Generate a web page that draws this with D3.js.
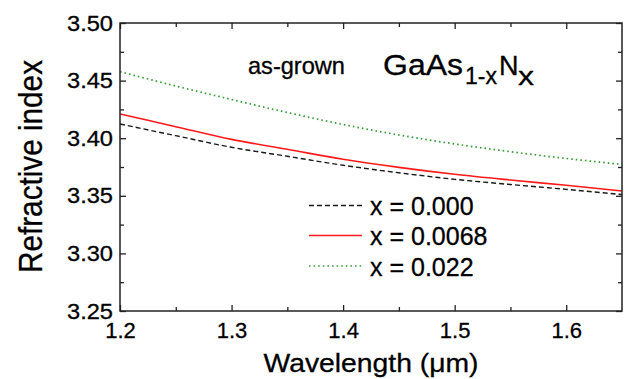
<!DOCTYPE html>
<html>
<head>
<meta charset="utf-8">
<script src="https://cdn.jsdelivr.net/npm/d3@7"></script>
<style>
  body { margin: 0; background: #fff; }
  text { font-family: "Liberation Sans", Arial, sans-serif; fill: #000; stroke: #000; stroke-width: 0.3px; }
  .tick text { font-size: 22px; }
</style>
</head>
<body>
<svg id="chart" width="624" height="379"></svg>
<script>
// wavelength in micrometres
var wavelengths = [1.20, 1.25, 1.30, 1.35, 1.40, 1.45, 1.50, 1.55, 1.60, 1.65];
// refractive index for each nitrogen content
var nX000  = [3.4123, 3.4022, 3.3921, 3.3843, 3.3765, 3.3700, 3.3643, 3.3598, 3.3556, 3.3511];
var nX0068 = [3.4210, 3.4100, 3.3990, 3.3904, 3.3817, 3.3747, 3.3687, 3.3637, 3.3591, 3.3542];
var nX022  = [3.4577, 3.4453, 3.4336, 3.4223, 3.4119, 3.4028, 3.3950, 3.3883, 3.3824, 3.3773];
var seriesNames = ["x = 0.000", "x = 0.0068", "x = 0.022"];

var xTicks = [1.2, 1.3, 1.4, 1.5, 1.6];
var xMinor = [1.25, 1.35, 1.45, 1.55];
var yTicks = [3.25, 3.30, 3.35, 3.40, 3.45, 3.50];
var yMinor = [3.275, 3.325, 3.375, 3.425, 3.475];

var svg = d3.select("#chart");

var plotLeft = 120, plotRight = 622, plotTop = 23, plotBottom = 311;

var x = d3.scaleLinear().domain([1.2, 1.65]).range([plotLeft, plotRight]);
var y = d3.scaleLinear().domain([3.25, 3.50]).range([plotBottom, plotTop]);

var styles = [
    { color: "#1a1a1a", width: 1.4, dash: "5,3" },
    { color: "#ff1a1a", width: 1.6, dash: null },
    { color: "#3a9c3a", width: 1.7, dash: "1.6,3" }
];
var allSeries = [nX000, nX0068, nX022];

// curves
var line = d3.line()
    .x(function (d) { return x(d[0]); })
    .y(function (d) { return y(d[1]); })
    .curve(d3.curveMonotoneX);

allSeries.forEach(function (vals, i) {
    var pts = wavelengths.map(function (w, j) { return [w, vals[j]]; });
    svg.append("path")
        .datum(pts)
        .attr("d", line)
        .attr("fill", "none")
        .attr("stroke", styles[i].color)
        .attr("stroke-width", styles[i].width)
        .attr("stroke-dasharray", styles[i].dash);
});

// axes, ticks pointing inwards
function styleAxis(g) {
    g.attr("font-size", null).attr("font-family", null);
    g.select(".domain").remove();
    g.selectAll("line").attr("stroke", "#222").attr("stroke-width", 1.3);
}

svg.append("g")
    .attr("transform", "translate(0," + plotBottom + ")")
    .call(d3.axisBottom(x).tickValues(xTicks).tickSizeInner(-6).tickSizeOuter(0)
        .tickPadding(11).tickFormat(d3.format(".1f")))
    .call(styleAxis);

svg.append("g")
    .attr("transform", "translate(0," + plotBottom + ")")
    .call(d3.axisBottom(x).tickValues(xMinor).tickSize(-4).tickFormat(""))
    .call(styleAxis);

svg.append("g")
    .attr("transform", "translate(0," + plotTop + ")")
    .call(d3.axisTop(x).tickValues(xTicks).tickSize(-6).tickFormat(""))
    .call(styleAxis);

svg.append("g")
    .attr("transform", "translate(0," + plotTop + ")")
    .call(d3.axisTop(x).tickValues(xMinor).tickSize(-4).tickFormat(""))
    .call(styleAxis);

svg.append("g")
    .attr("transform", "translate(" + plotLeft + ",0)")
    .call(d3.axisLeft(y).tickValues(yTicks).tickSizeInner(-6).tickSizeOuter(0)
        .tickPadding(7).tickFormat(d3.format(".2f")))
    .call(styleAxis)
    .selectAll("text")
    .attr("textLength", 46)
    .attr("lengthAdjust", "spacingAndGlyphs");

svg.append("g")
    .attr("transform", "translate(" + plotLeft + ",0)")
    .call(d3.axisLeft(y).tickValues(yMinor).tickSize(-4).tickFormat(""))
    .call(styleAxis);

svg.append("g")
    .attr("transform", "translate(" + plotRight + ",0)")
    .call(d3.axisRight(y).tickValues(yTicks).tickSize(-6).tickFormat(""))
    .call(styleAxis);

svg.append("g")
    .attr("transform", "translate(" + plotRight + ",0)")
    .call(d3.axisRight(y).tickValues(yMinor).tickSize(-4).tickFormat(""))
    .call(styleAxis);

// frame
svg.append("rect")
    .attr("x", plotLeft).attr("y", plotTop)
    .attr("width", plotRight - plotLeft).attr("height", plotBottom - plotTop)
    .attr("fill", "none").attr("stroke", "#222").attr("stroke-width", 1.5);

// axis titles
svg.append("text")
    .attr("x", (plotLeft + plotRight) / 2).attr("y", 372)
    .attr("text-anchor", "middle")
    .style("font-size", "26px")
    .attr("textLength", 215).attr("lengthAdjust", "spacingAndGlyphs")
    .text("Wavelength (\u03bcm)");

svg.append("text")
    .attr("transform", "translate(42,166.5) rotate(-90)")
    .attr("text-anchor", "middle")
    .style("font-size", "33px")
    .attr("textLength", 213).attr("lengthAdjust", "spacingAndGlyphs")
    .text("Refractive index");

// annotations
svg.append("text")
    .attr("x", 248).attr("y", 74)
    .style("font-size", "24px")
    .attr("textLength", 97).attr("lengthAdjust", "spacingAndGlyphs")
    .text("as-grown");

var formula = svg.append("text").style("font-size", "29px");
formula.append("tspan").attr("x", 383).attr("y", 75)
    .attr("textLength", 80).attr("lengthAdjust", "spacingAndGlyphs").text("GaAs");
formula.append("tspan").attr("x", 465).attr("y", 84).style("font-size", "24px")
    .attr("textLength", 32).attr("lengthAdjust", "spacingAndGlyphs").text("1-x");
formula.append("tspan").attr("x", 499).attr("y", 74.5).style("font-size", "27px").text("N");
formula.append("tspan").attr("x", 518).attr("y", 84.5).style("font-size", "26px")
    .attr("textLength", 16).attr("lengthAdjust", "spacingAndGlyphs").text("x");

// legend
var legendY = [215, 245, 275.5];
seriesNames.forEach(function (name, i) {
    svg.append("line")
        .attr("x1", 309).attr("x2", 362)
        .attr("y1", legendY[i] - 9.5).attr("y2", legendY[i] - 9.5)
        .attr("stroke", styles[i].color)
        .attr("stroke-width", styles[i].width)
        .attr("stroke-dasharray", styles[i].dash);
    svg.append("text")
        .attr("x", 370).attr("y", legendY[i])
        .style("font-size", "25px")
        .text(name);
});
</script>
</body>
</html>
